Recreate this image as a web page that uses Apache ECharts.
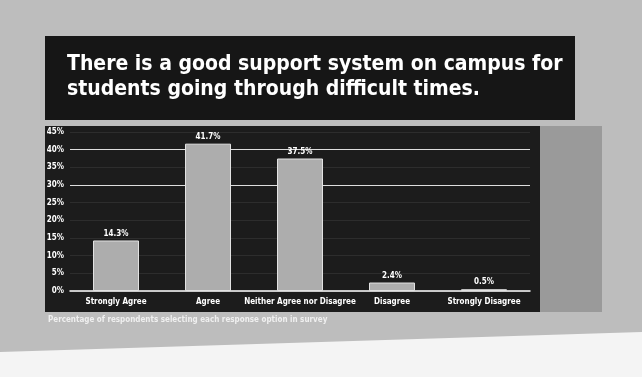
<!DOCTYPE html>
<html>
<head>
<meta charset="utf-8">
<script src="https://cdn.jsdelivr.net/npm/echarts@6/dist/echarts.min.js"></script>
<style>
html,body{margin:0;padding:0;background:#ffffff;}
#c{width:642px;height:377px;}
</style>
</head>
<body>
<div id="c"></div>
<script>
const titleLines = ['There is a good support system on campus for', 'students going through difficult times.'];
const categories = ['Strongly Agree', 'Agree', 'Neither Agree nor Disagree', 'Disagree', 'Strongly Disagree'];
const values = [14.3, 41.7, 37.5, 2.4, 0.5];
const yTicks = [0, 5, 10, 15, 20, 25, 30, 35, 40, 45];
const footnote = 'Percentage of respondents selecting each response option in survey';

const chart = echarts.init(document.getElementById('c'), null, {renderer: 'canvas'});
const gridColors = yTicks.map(t => (t === 30 || t === 40) ? 'rgba(255,255,255,0.85)' : 'rgba(255,255,255,0.08)');

chart.setOption({
  backgroundColor: '#bdbdbd',
  animation: false,
  graphic: [
    {type: 'polygon', shape: {points: [[0, 352], [642, 332], [642, 377], [0, 377]]}, style: {fill: '#f4f4f4'}, z: 0},
    {type: 'rect', shape: {x: 45, y: 36, width: 530, height: 84}, style: {fill: '#161616'}, z: 0},
    {type: 'rect', shape: {x: 538, y: 126, width: 64, height: 186}, style: {fill: '#9a9a9a'}, z: 0},
    {type: 'rect', shape: {x: 45, y: 126, width: 495, height: 186}, style: {fill: '#1c1c1c'}, z: 0},
    {type: 'text', left: 48, top: 316, style: {text: footnote, fill: '#f0f0f0', font: 'bold 8px "DejaVu Sans Condensed"'}, z: 5}
  ],
  title: {
    text: titleLines.join('\n'),
    left: 62, top: 47,
    textStyle: {color: '#ffffff', fontSize: 21, fontWeight: 'bold', fontFamily: '"DejaVu Sans Condensed"', lineHeight: 25}
  },
  grid: {left: 70, right: 112, top: 132, bottom: 86},
  xAxis: {
    type: 'category',
    data: categories,
    axisLine: {show: true, lineStyle: {color: '#ffffff', width: 1.5}},
    axisTick: {show: false},
    axisLabel: {color: '#ffffff', fontSize: 8, fontWeight: 'bold', fontFamily: '"DejaVu Sans Condensed"', margin: 7, interval: 0}
  },
  yAxis: {
    type: 'value',
    min: 0, max: 45, interval: 5,
    axisLine: {show: false},
    axisTick: {show: false},
    axisLabel: {color: '#ffffff', fontSize: 8, fontWeight: 'bold', fontFamily: '"DejaVu Sans Condensed"', formatter: '{value}%', margin: 6},
    splitLine: {show: true, lineStyle: {color: gridColors, width: 1}}
  },
  series: [{
    type: 'bar',
    data: values,
    barWidth: '50%',
    itemStyle: {color: '#adadad', borderColor: '#e2e2e2', borderWidth: 1},
    label: {show: true, position: 'top', color: '#ffffff', fontSize: 8, fontWeight: 'bold', fontFamily: '"DejaVu Sans Condensed"', formatter: p => p.value.toFixed(1) + '%', distance: 3}
  }]
});
</script>
</body>
</html>
